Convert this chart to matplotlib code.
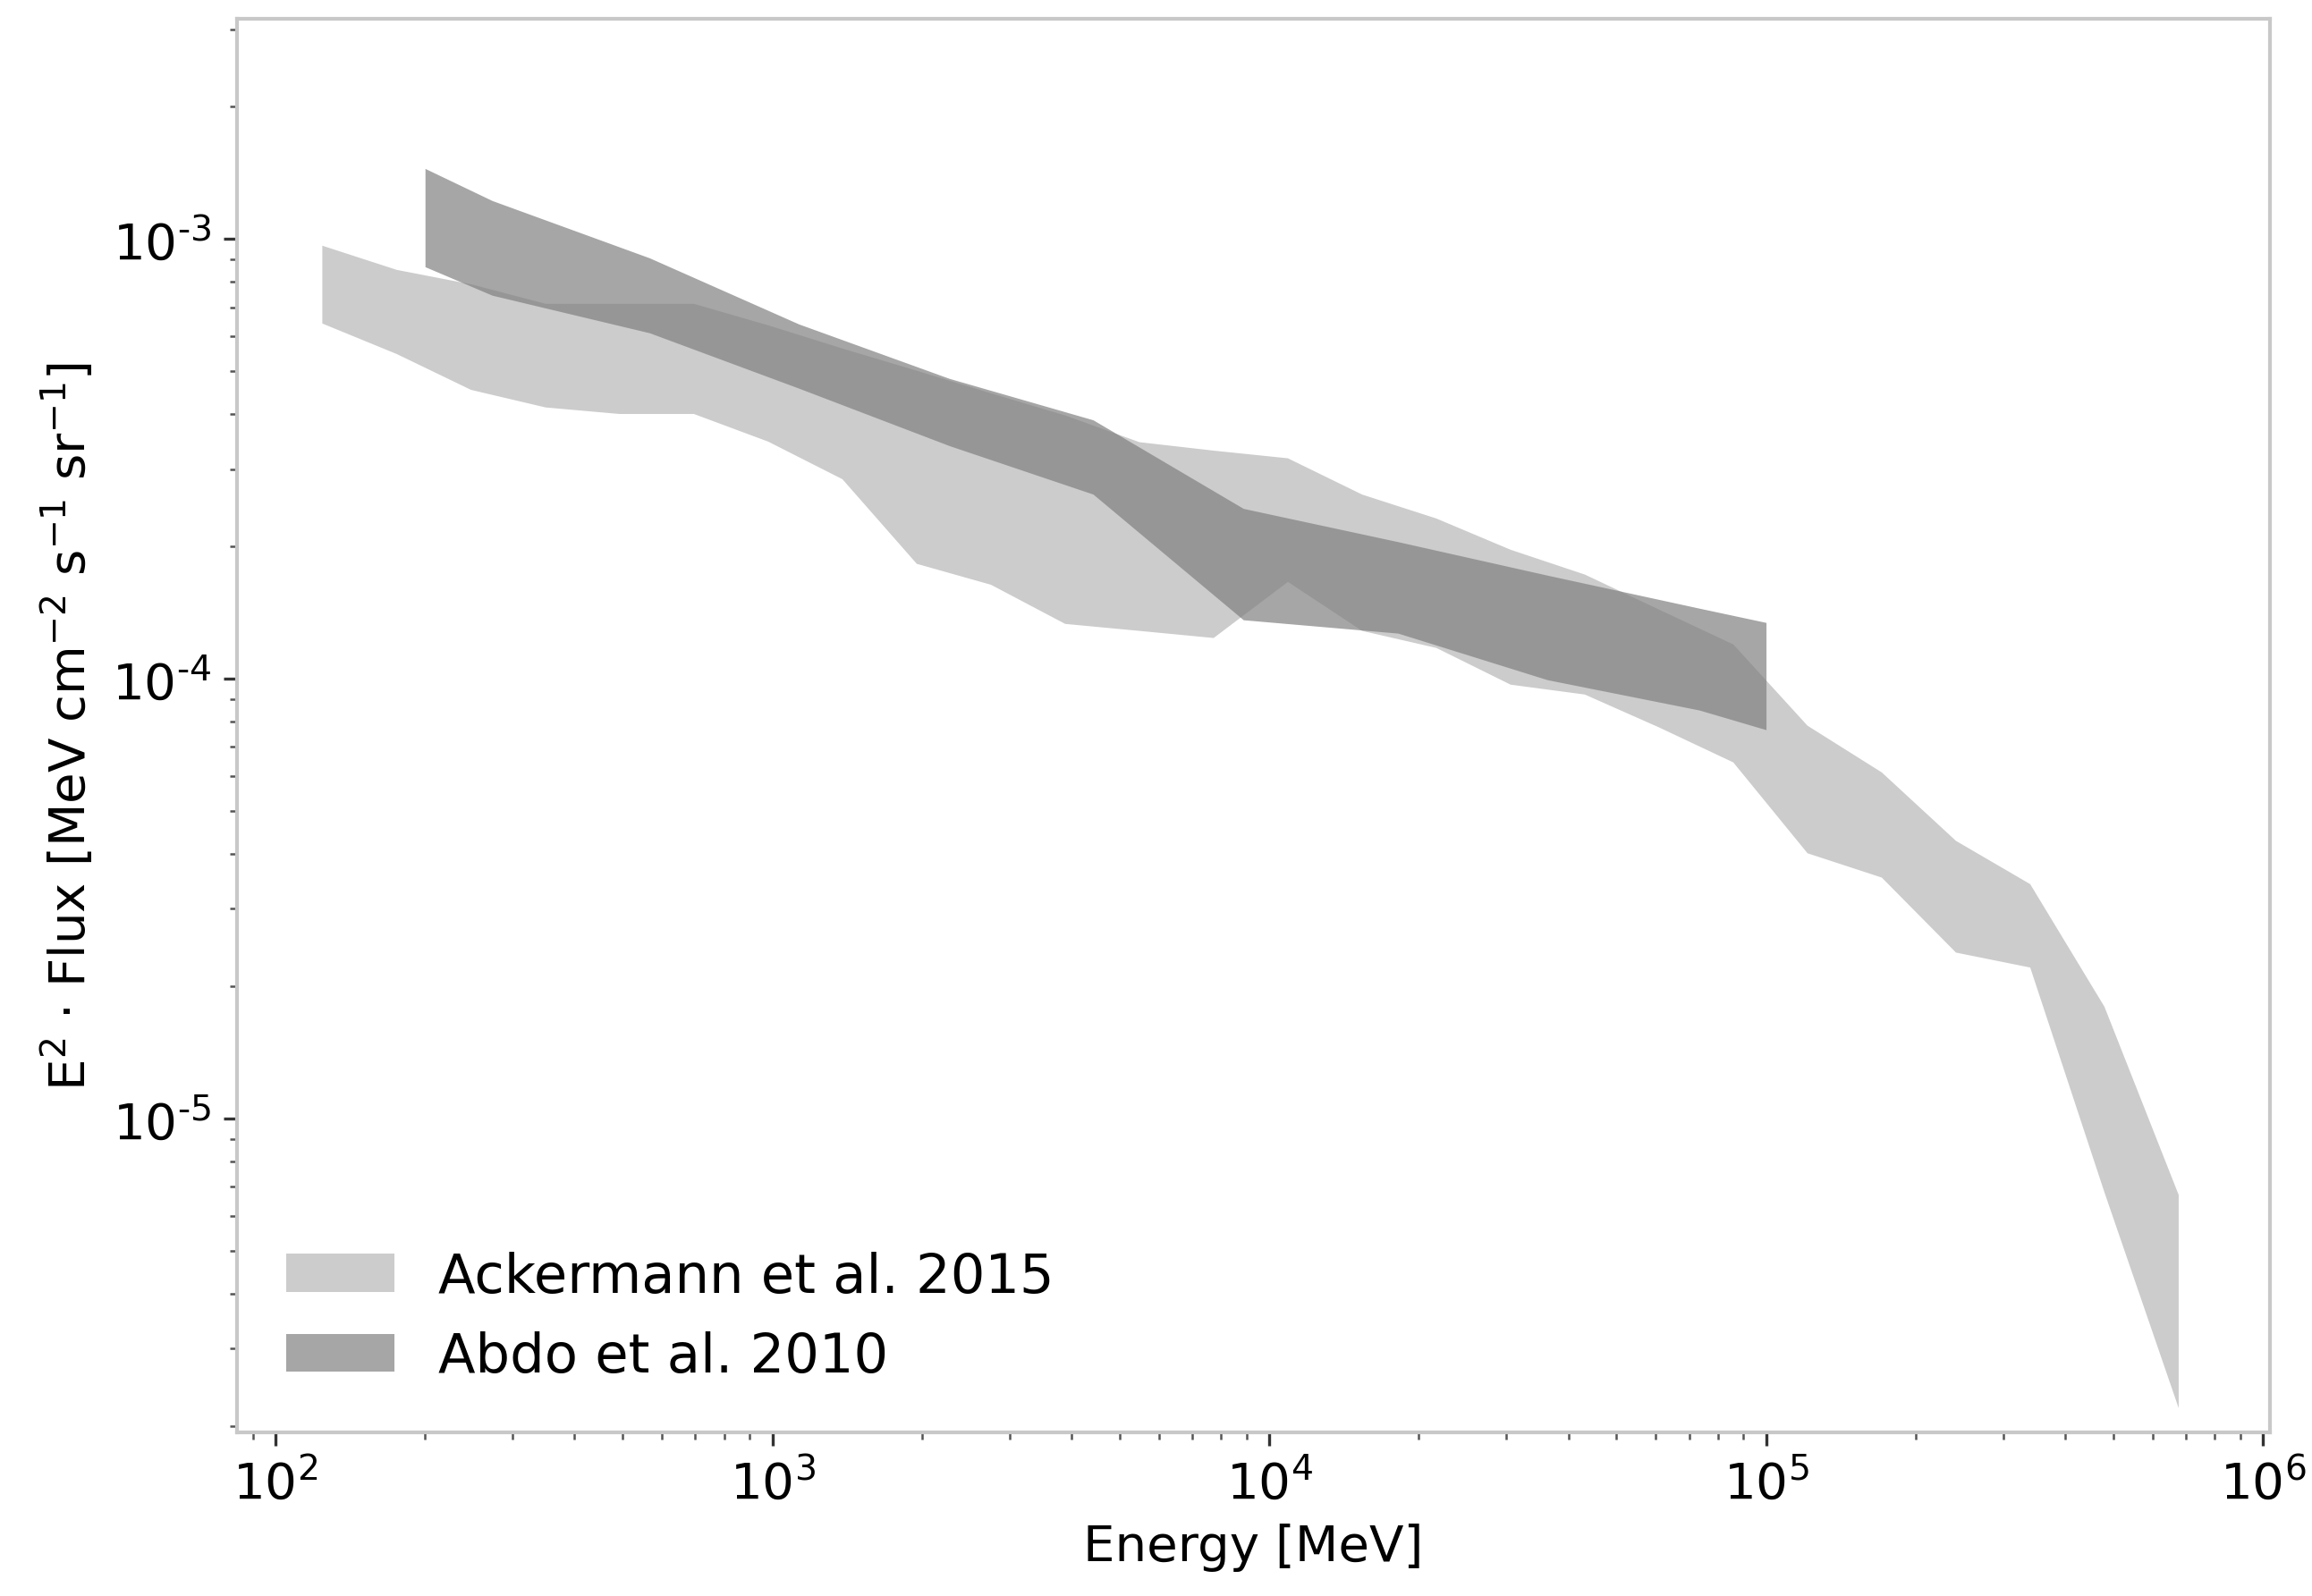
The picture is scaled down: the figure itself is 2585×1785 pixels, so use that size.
import numpy as np
import matplotlib
matplotlib.use("Agg")
import matplotlib.pyplot as plt
from matplotlib.ticker import FuncFormatter

plt.rcParams["font.family"] = ["DejaVu Sans"]

# Ackermann et al. 2015 : bande IGRB (bornes haute et basse)
ack_energy = [124, 175, 247, 349, 492, 694, 979, 1381, 1949, 2749, 3878, 5470,
              7716, 10885, 15354, 21658, 30550, 43094, 60788, 85748, 120955,
              170617, 240670, 339485, 478873, 675491]
ack_upper = [9.68e-4, 8.53e-4, 7.91e-4, 7.14e-4, 7.14e-4, 7.14e-4, 6.38e-4,
             5.65e-4, 5.03e-4, 4.47e-4, 3.98e-4, 3.46e-4, 3.31e-4, 3.18e-4,
             2.63e-4, 2.32e-4, 1.97e-4, 1.73e-4, 1.44e-4, 1.20e-4, 7.84e-5,
             6.14e-5, 4.29e-5, 3.42e-5, 1.80e-5, 6.72e-6]
ack_lower = [6.44e-4, 5.49e-4, 4.55e-4, 4.15e-4, 4.01e-4, 4.01e-4, 3.47e-4,
             2.85e-4, 1.83e-4, 1.64e-4, 1.336e-4, 1.288e-4, 1.241e-4, 1.665e-4,
             1.288e-4, 1.178e-4, 9.72e-5, 9.23e-5, 7.77e-5, 6.47e-5, 4.02e-5,
             3.54e-5, 2.39e-5, 2.21e-5, 6.81e-6, 2.20e-6]

# Abdo et al. 2010
abdo_energy = [200, 273, 566, 1130, 2270, 4420, 8870, 18160, 36300, 73400, 100000]
abdo_upper = [1.447e-3, 1.223e-3, 9.06e-4, 6.41e-4, 4.82e-4, 3.88e-4, 2.44e-4,
              2.05e-4, 1.72e-4, 1.447e-4, 1.343e-4]
abdo_lower = [8.65e-4, 7.45e-4, 6.12e-4, 4.58e-4, 3.39e-4, 2.63e-4, 1.362e-4,
              1.270e-4, 9.95e-5, 8.49e-5, 7.66e-5]

labels = ["Ackermann et al. 2015", "Abdo et al. 2010"]

fig = plt.figure(figsize=(8.62, 5.953), dpi=300)
ax = fig.add_axes([0.1025, 0.1025, 0.879, 0.885])

ax.fill_between(ack_energy, ack_lower, ack_upper, color="k", alpha=0.2,
                lw=0, label=labels[0])
ax.fill_between(abdo_energy, abdo_lower, abdo_upper, color="gray", alpha=0.7,
                lw=0, label=labels[1])

ax.set_xscale("log")
ax.set_yscale("log")
ax.set_xlim(83.7, 1.034e6)
ax.set_ylim(1.934e-6, 10 ** -2.5)


# exposants negatifs avec un tiret court
def fmt_log(val, pos):
    expo = int(round(np.log10(val)))
    if expo < 0:
        return "$\\mathdefault{10^{\u2010%d}}$" % (-expo)
    return "$\\mathdefault{10^{%d}}$" % expo


ax.xaxis.set_major_formatter(FuncFormatter(fmt_log))
ax.yaxis.set_major_formatter(FuncFormatter(fmt_log))

for side in ["left", "bottom", "right", "top"]:
    ax.spines[side].set_color("#c8c8c8")
    ax.spines[side].set_linewidth(1.0)

ax.tick_params(which="both", colors="#333333", labelcolor="black", labelsize=13.5)
ax.tick_params(which="minor", colors="#555555")

ax.set_xlabel("Energy [MeV]", fontsize=13.5)
ax.set_ylabel(r"E$^{2}$ $\cdot$ Flux [MeV cm$^{-2}$ s$^{-1}$ sr$^{-1}$]", fontsize=13.5)

ax.legend(loc="lower left", frameon=False, fontsize=14.6)

fig.savefig("out.png", dpi=300)
